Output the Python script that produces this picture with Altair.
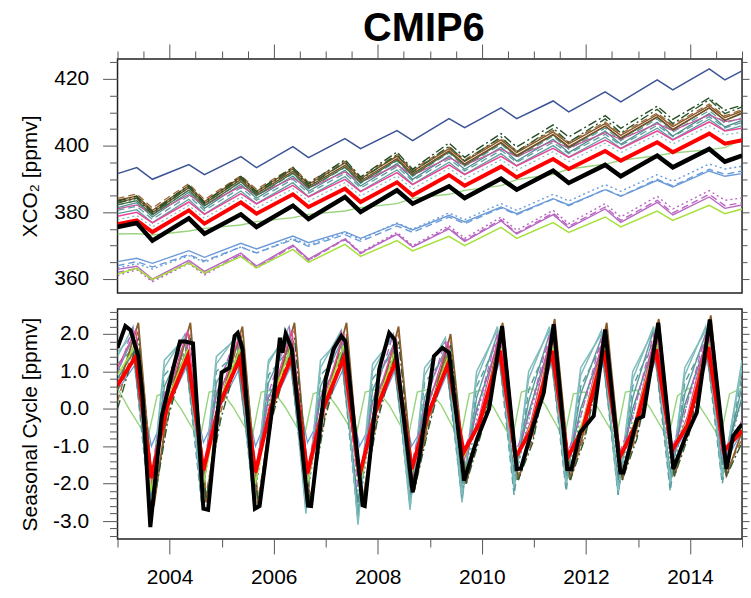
import altair as alt
import pandas as pd

# ---------------- time grids (decimal years) ----------------
X_TOP = [2003.0, 2003.37, 2003.67, 2004.37, 2004.67, 2005.37, 2005.67, 2006.37, 2006.67,
         2007.37, 2007.67, 2008.37, 2008.67, 2009.37, 2009.67, 2010.37, 2010.67, 2011.37,
         2011.67, 2012.37, 2012.67, 2013.37, 2013.67, 2014.37, 2014.67, 2015.0]

X_MID = [2003.0, 2003.35, 2003.65, 2003.95, 2004.35, 2004.65, 2004.95, 2005.35, 2005.65, 2005.95,
         2006.35, 2006.65, 2006.95, 2007.35, 2007.65, 2007.95, 2008.35, 2008.65, 2008.95,
         2009.35, 2009.65, 2009.95, 2010.35, 2010.65, 2010.95, 2011.35, 2011.65, 2011.95,
         2012.35, 2012.65, 2012.95, 2013.35, 2013.65, 2013.95, 2014.35, 2014.65, 2015.0]
X_EARLY = [2003.0, 2003.30, 2003.62, 2003.90, 2004.30, 2004.62, 2004.90, 2005.30, 2005.62, 2005.90,
           2006.30, 2006.62, 2006.90, 2007.30, 2007.62, 2007.90, 2008.30, 2008.62, 2008.90,
           2009.30, 2009.62, 2009.90, 2010.30, 2010.62, 2010.90, 2011.30, 2011.62, 2011.90,
           2012.30, 2012.62, 2012.90, 2013.30, 2013.62, 2013.90, 2014.30, 2014.62, 2015.0]
X_LATE = [2003.0, 2003.40, 2003.70, 2003.98, 2004.40, 2004.70, 2004.98, 2005.40, 2005.70, 2005.98,
          2006.40, 2006.70, 2006.98, 2007.40, 2007.70, 2007.98, 2008.40, 2008.70, 2008.98,
          2009.40, 2009.70, 2009.98, 2010.40, 2010.70, 2010.98, 2011.40, 2011.70, 2011.98,
          2012.40, 2012.70, 2012.98, 2013.40, 2013.70, 2013.98, 2014.40, 2014.70, 2015.0]
X_LG = [2003.0,
        2003.22, 2003.58, 2003.76, 2003.98, 2004.22, 2004.58, 2004.76, 2004.98,
        2005.22, 2005.58, 2005.76, 2005.98, 2006.22, 2006.58, 2006.76, 2006.98,
        2007.22, 2007.58, 2007.76, 2007.98, 2008.22, 2008.58, 2008.76, 2008.98,
        2009.22, 2009.58, 2009.76, 2009.98, 2010.22, 2010.58, 2010.76, 2010.98,
        2011.22, 2011.58, 2011.76, 2011.98, 2012.22, 2012.58, 2012.76, 2012.98,
        2013.22, 2013.58, 2013.76, 2013.98, 2014.22, 2014.58, 2014.76, 2014.98]

# ---------------- top panel: XCO2 [ppmv] ----------------
NAVY = [391.6, 393.4, 389.9, 394.3, 391.3, 396.7, 393.4, 399.7, 396.4, 402.1, 399.1, 404.5, 401.5,
        408.1, 405.4, 411.3, 408.1, 413.4, 410.1, 416.1, 413.1, 419.7, 416.7, 423.0, 419.7, 422.4]
BLACK = [375.6, 376.8, 371.5, 378.2, 373.6, 379.4, 375.6, 382.0, 378.0, 384.6, 380.1, 386.6, 382.6,
         387.8, 384.3, 390.1, 386.8, 392.5, 388.8, 394.2, 390.8, 397.0, 393.5, 399.0, 395.2, 397.0]
RED = [376.4, 377.6, 374.1, 380.6, 376.6, 383.0, 379.6, 385.4, 381.6, 387.1, 383.1, 389.0, 385.1,
       391.2, 388.0, 393.7, 390.5, 396.0, 393.0, 398.4, 395.5, 401.0, 398.0, 403.6, 400.6, 401.6]
LGREEN = [373.5, 373.6, 373.2, 374.4, 375.2, 376.2, 377.2, 378.4, 379.4, 380.4, 381.4, 382.6, 384.2,
          385.4, 386.6, 388.0, 389.8, 391.4, 393.0, 394.4, 395.6, 397.0, 397.8, 398.8, 399.4, 401.8]
LIME = [361.5, 363.2, 359.8, 364.8, 361.8, 366.7, 363.3, 368.9, 365.0, 370.4, 366.8, 371.5, 368.4,
        372.8, 370.0, 375.5, 372.2, 376.9, 374.0, 378.6, 375.6, 380.4, 377.6, 382.1, 379.6, 381.0]
PURPLE_S = [362.9, 363.8, 360.0, 365.6, 362.3, 367.8, 363.9, 370.2, 366.0, 372.0, 367.8, 373.4, 369.6,
            375.0, 371.3, 377.4, 373.5, 379.3, 375.3, 381.0, 377.0, 383.0, 379.2, 384.6, 381.2, 382.2]
PURPLE_DOT = [361.0, 362.8, 359.2, 364.6, 361.2, 367.2, 363.2, 370.0, 365.6, 372.2, 368.0, 374.0, 370.0,
              376.0, 372.2, 378.6, 374.6, 380.6, 376.6, 382.6, 378.6, 384.8, 381.0, 386.5, 383.6, 384.3]
PURPLE_DASH = [362.0, 363.2, 359.6, 365.0, 361.6, 367.4, 363.5, 369.8, 365.6, 371.8, 367.6, 373.6, 369.6,
               375.4, 371.6, 377.8, 373.8, 379.8, 375.8, 381.6, 377.6, 383.6, 379.8, 385.4, 382.0, 382.9]
BLUE_S = [365.2, 366.2, 364.7, 368.5, 366.5, 370.7, 369.0, 372.9, 370.9, 374.2, 372.2, 376.6, 374.7,
          379.1, 377.1, 381.6, 379.6, 384.1, 382.2, 386.8, 384.8, 389.6, 387.6, 392.4, 390.8, 391.6]
BLUE_DASH = [364.0, 365.2, 363.6, 367.3, 365.4, 369.6, 367.8, 371.8, 369.8, 373.3, 371.3, 375.9, 374.0,
             378.6, 376.6, 381.3, 379.3, 384.0, 382.0, 386.9, 384.9, 389.9, 387.9, 392.9, 391.4, 392.4]
BLUE_DOT = [363.3, 364.6, 363.0, 367.0, 365.0, 369.6, 367.8, 372.2, 370.2, 373.9, 371.9, 376.8, 374.9,
            379.8, 377.8, 382.6, 380.6, 385.4, 383.4, 388.3, 386.3, 391.3, 389.3, 394.5, 393.0, 393.8]
PINK = [378.8, 380.0, 376.8, 383.1, 379.4, 385.6, 382.5, 388.1, 384.6, 389.9, 386.2, 391.9, 388.3,
        394.2, 391.3, 396.8, 393.9, 399.2, 396.5, 401.7, 399.1, 404.4, 401.7, 407.1, 404.4, 405.2]
PLUM = [381.0, 382.2, 379.5, 385.3, 382.1, 387.8, 385.2, 390.3, 387.3, 392.1, 389.0, 394.1, 391.1,
        396.4, 394.1, 399.0, 396.7, 401.4, 399.3, 403.9, 401.9, 406.6, 404.5, 409.2, 407.2, 408.0]
TEAL1 = [379.6, 380.8, 376.9, 383.9, 379.5, 386.4, 382.6, 388.9, 384.7, 390.7, 386.3, 392.7, 388.4,
         395.0, 391.4, 397.6, 394.0, 400.0, 396.6, 402.5, 399.2, 405.2, 401.8, 407.9, 404.5, 406.0]
TEAL2 = [380.6, 381.8, 377.9, 384.9, 380.5, 387.4, 383.6, 389.9, 385.7, 391.7, 387.3, 393.7, 389.4,
         396.0, 392.4, 398.6, 395.0, 401.0, 397.6, 403.4, 400.1, 406.1, 402.7, 408.7, 405.3, 406.9]
TEAL3 = [381.4, 382.9, 378.6, 386.0, 381.2, 388.4, 384.2, 390.9, 386.3, 392.6, 387.9, 394.6, 389.9,
         396.9, 392.9, 399.5, 395.4, 401.9, 397.9, 404.4, 400.4, 407.0, 402.9, 409.6, 405.6, 407.6]
TEAL4 = [377.8, 379.0, 375.6, 382.1, 378.2, 384.6, 381.2, 387.1, 383.3, 388.9, 384.9, 390.9, 387.0,
         393.2, 390.0, 395.8, 392.6, 398.2, 395.2, 400.7, 397.9, 403.4, 400.5, 406.0, 403.2, 404.0]
TEAL5 = [382.2, 383.6, 379.4, 386.6, 381.9, 389.1, 384.9, 391.6, 387.0, 393.4, 388.7, 395.4, 390.8,
         397.8, 393.8, 400.4, 396.4, 402.8, 398.9, 405.3, 401.5, 408.0, 404.1, 410.5, 406.7, 408.4]
BROWN1 = [383.6, 384.9, 380.6, 388.0, 383.2, 390.5, 386.3, 393.0, 388.4, 394.8, 390.1, 396.8, 392.3,
          399.1, 395.3, 401.7, 397.9, 404.1, 400.5, 406.6, 403.1, 409.3, 405.7, 412.0, 408.4, 410.4]
BROWN2 = [384.2, 385.5, 381.3, 388.6, 383.8, 391.0, 386.9, 393.5, 389.0, 395.3, 390.6, 397.3, 392.8,
          399.6, 395.8, 402.2, 398.4, 404.6, 401.0, 407.1, 403.6, 409.8, 406.2, 412.5, 408.9, 410.8]
BROWN3 = [383.0, 384.3, 379.9, 387.4, 382.6, 389.8, 385.6, 392.3, 387.7, 394.1, 389.4, 396.1, 391.6,
          398.4, 394.5, 401.0, 397.1, 403.4, 399.7, 405.9, 402.3, 408.6, 404.9, 411.3, 407.6, 409.8]
DKG1 = [382.8, 384.2, 379.6, 387.5, 382.4, 390.2, 385.6, 392.9, 387.9, 395.0, 389.8, 397.2, 392.1,
        399.8, 395.4, 402.6, 398.2, 405.2, 401.0, 408.0, 403.8, 410.9, 406.6, 413.8, 409.6, 411.6]
DKG2 = [382.2, 383.5, 379.2, 386.7, 381.9, 389.2, 385.0, 391.8, 387.2, 393.6, 388.9, 395.7, 391.1,
        398.1, 394.1, 400.8, 396.8, 403.2, 399.4, 405.8, 402.1, 408.5, 404.7, 411.3, 407.5, 409.6]
DKG3 = [383.4, 384.8, 380.2, 388.1, 383.0, 390.8, 386.2, 393.5, 388.6, 395.8, 390.6, 398.1, 392.9,
        400.8, 396.5, 403.6, 399.6, 406.2, 402.6, 409.0, 405.2, 411.8, 407.9, 414.3, 410.6, 412.1]

# ---------------- bottom panel: Seasonal Cycle [ppmv] ----------------
RED_B = [0.63, 1.40, -1.85, 0.05, 1.40, -1.65, 0.10, 1.35, -1.70, 0.05, 1.40, -1.72, 0.00,
         1.37, -1.79, -0.10, 1.30, -1.61, -0.20, 1.19, -1.16, -0.40, 1.55, -1.30, -0.55,
         1.55, -1.30, -0.50, 1.55, -1.30, -0.45, 1.59, -1.12, -0.45, 1.65, -1.12, -0.59]
BLACK_BT = [2003.0, 2003.15, 2003.25, 2003.4, 2003.48, 2003.63, 2003.85, 2004.05, 2004.2, 2004.3,
            2004.45, 2004.65, 2004.74, 2005.0, 2005.15, 2005.25, 2005.31, 2005.4, 2005.64, 2005.73,
            2006.02, 2006.12, 2006.17, 2006.23, 2006.35, 2006.66, 2006.72, 2007.0, 2007.15, 2007.3,
            2007.38, 2007.71, 2007.75, 2008.03, 2008.22, 2008.32, 2008.67, 2008.8, 2009.08, 2009.24,
            2009.37, 2009.66, 2009.91, 2010.14, 2010.39, 2010.67, 2010.75, 2011.0, 2011.19, 2011.38,
            2011.64, 2011.72, 2011.89, 2012.15, 2012.37, 2012.66, 2012.72, 2012.98, 2013.1, 2013.39,
            2013.68, 2013.9, 2014.13, 2014.38, 2014.7, 2014.83, 2015.0]
BLACK_BV = [1.63, 2.21, 2.1, 1.41, 0.35, -3.16, -0.2, 0.97, 1.8, 1.8,
            1.75, -2.67, -2.7, 0.97, 1.1, 1.95, 2.03, 1.6, -2.67, -2.6,
            0.52, 1.9, 1.5, 2.0, 1.6, -2.59, -2.6, 0.8, 1.6, 1.95,
            1.8, -2.58, -2.6, 1.07, 2.03, 1.86, -2.23, -1.3, 1.41, 1.63,
            1.5, -1.92, -0.8, 0.0, 2.21, -1.61, -1.6, -0.4, 0.43, 2.26,
            -1.61, -1.62, -0.63, -0.19, 2.12, -1.70, -1.7, -0.28, -0.2, 2.3,
            -1.61, -0.8, -0.1, 2.39, -1.61, -0.72, -0.41]
TEALB1 = [1.0, 1.9, -2.4, 0.6, 1.8, -2.2, 0.7, 1.7, -2.3, 0.7, 1.9, -2.5, 0.6, 1.8, -2.9, 0.5, 1.7, -2.4, 0.3,
          1.6, -2.2, 0.3, 2.0, -1.9, 0.2, 2.0, -1.9, 0.4, 1.9, -2.1, 0.3, 2.1, -1.9, 0.4, 2.0, -1.7, 0.6]
TEALB2 = [1.2, 1.6, -2.7, 0.9, 1.5, -2.6, 1.0, 1.5, -2.5, 0.9, 1.6, -2.6, 0.9, 1.5, -3.0, 0.8, 1.5, -2.6, 0.7,
          1.4, -2.4, 0.6, 1.8, -2.3, 0.5, 1.8, -2.2, 0.6, 1.7, -2.3, 0.6, 1.8, -2.2, 0.7, 1.8, -2.0, 0.9]
TEALB3 = [0.8, 1.5, -2.2, 0.3, 1.4, -2.0, 0.4, 1.3, -2.1, 0.3, 1.5, -2.2, 0.3, 1.4, -2.5, 0.2, 1.3, -2.1, 0.0,
          1.3, -2.0, 0.0, 1.7, -1.7, -0.1, 1.7, -1.8, 0.0, 1.6, -1.9, 0.0, 1.7, -1.7, 0.1, 1.7, -1.5, 0.3]
TEALB4 = [1.4, 2.2, -2.5, 1.1, 2.0, -2.4, 1.2, 2.0, -2.4, 1.2, 2.2, -2.7, 1.1, 2.1, -3.1, 1.0, 2.0, -2.6, 0.9,
          1.9, -2.3, 0.8, 2.2, -2.0, 0.8, 2.2, -2.0, 0.9, 2.1, -2.2, 0.8, 2.2, -1.9, 0.9, 2.2, -1.8, 1.1]
TEALB5 = [1.5, 2.0, -2.6, 1.3, 1.9, -2.5, 1.4, 1.9, -2.6, 1.3, 2.0, -2.8, 1.3, 1.9, -2.8, 1.2, 1.9, -2.7, 1.1,
          1.8, -2.5, 1.0, 2.1, -2.2, 1.0, 2.1, -2.1, 1.1, 2.0, -2.3, 1.0, 2.1, -2.1, 1.1, 2.1, -1.9, 1.3]
TEALB6 = [0.7, 1.8, -2.3, 0.5, 1.7, -2.1, 0.5, 1.6, -2.2, 0.5, 1.8, -2.3, 0.4, 1.7, -2.6, 0.3, 1.6, -2.3, 0.1,
          1.5, -2.1, 0.1, 1.9, -1.8, 0.0, 1.9, -1.8, 0.1, 1.8, -2.0, 0.1, 1.9, -1.8, 0.2, 1.9, -1.6, 0.3]
BROWNB1 = [0.5, 2.3, -2.6, 0.2, 2.3, -2.5, 0.2, 2.2, -2.6, 0.2, 2.3, -2.6, 0.1, 2.3, -2.6, 0.0, 2.2, -2.2, -0.2,
           2.0, -2.0, -0.4, 2.3, -1.9, -0.6, 2.4, -1.9, -0.5, 2.3, -1.9, -0.5, 2.4, -1.8, -0.4, 2.5, -1.8, -0.6]
BROWNB2 = [0.2, 2.1, -2.4, -0.1, 2.0, -2.3, -0.1, 2.0, -2.4, -0.1, 2.1, -2.4, -0.2, 2.0, -2.5, -0.3, 2.0, -2.1, -0.4,
           1.8, -1.9, -0.6, 2.1, -1.8, -0.8, 2.2, -1.8, -0.7, 2.1, -1.8, -0.7, 2.2, -1.7, -0.6, 2.3, -1.7, -0.8]
DKGB = [0.0, 1.9, -2.5, -0.2, 1.9, -2.4, -0.3, 1.8, -2.5, -0.2, 1.9, -2.5, -0.3, 1.9, -2.6, -0.4, 1.8, -2.2, -0.5,
        1.7, -2.0, -0.7, 2.0, -1.9, -0.9, 2.1, -1.9, -0.8, 2.0, -1.9, -0.8, 2.1, -1.8, -0.7, 2.2, -1.8, -0.9]
PINKB = [1.1, 2.1, -2.0, 0.3, 2.1, -1.9, 0.3, 2.0, -1.9, 0.3, 2.1, -1.9, 0.2, 2.0, -2.0, 0.1, 1.9, -1.8, 0.0,
         1.8, -1.4, -0.2, 2.1, -1.4, -0.3, 2.1, -1.4, -0.3, 2.0, -1.4, -0.3, 2.1, -1.3, -0.2, 2.1, -1.3, -0.4]
PURPLEB = [0.9, 2.2, -2.0, 0.4, 2.0, -1.8, 0.4, 2.1, -1.9, 0.4, 2.2, -1.9, 0.3, 2.1, -2.1, 0.2, 2.0, -1.7, 0.1,
           1.8, -1.3, -0.1, 2.0, -1.3, -0.2, 2.0, -1.3, -0.2, 1.9, -1.3, -0.2, 2.0, -1.2, -0.1, 2.0, -1.2, -0.3]
LIMEB = [0.9, 1.7, -2.2, 0.2, 1.6, -2.0, 0.2, 1.6, -2.0, 0.2, 1.7, -2.0, 0.1, 1.7, -2.1, 0.0, 1.6, -1.7, -0.2,
         1.4, -1.3, -0.3, 1.7, -1.4, -0.4, 1.7, -1.4, -0.3, 1.7, -1.4, -0.3, 1.8, -1.2, -0.3, 1.8, -1.2, -0.5]
BLUEB = [0.5, 1.2, -1.0, 0.0, 1.2, -0.9, 0.0, 1.1, -1.0, 0.0, 1.2, -0.9, -0.1, 1.1, -1.0, -0.2, 1.1, -1.0, -0.3,
         1.0, -1.2, -0.4, 1.3, -1.3, -0.5, 1.3, -1.3, -0.5, 1.3, -1.4, -0.5, 1.4, -1.3, -0.5, 1.4, -1.5, -0.6]
LGREENB = [0.55,
           0.0, -0.8, 0.35, 0.48, 0.0, -0.85, 0.45, 0.5, 0.05, -0.8, 0.45, 0.5, 0.05, -0.8, 0.4, 0.5,
           0.05, -0.75, 0.45, 0.52, 0.1, -0.8, 0.45, 0.52, 0.1, -0.85, 0.4, 0.5, 0.05, -0.85, 0.45, 0.55,
           0.1, -0.8, 0.4, 0.45, 0.05, -0.8, 0.45, 0.5, 0.05, -0.8, 0.35, 0.55, 0.0, -0.8, 0.4, 0.55]

# ticks
X_TICKS = [2003 + 0.5 * i for i in range(25)]
TOP_TICKS = [360 + 5 * i for i in range(14)]
BOT_TICKS = [round(-3.4 + 0.2 * i, 1) for i in range(31)]

# ---------------- styling ----------------
FONT = "Liberation Sans"
W, H_TOP, H_BOT = 627, 235, 231
XS = alt.Scale(domain=[2003.0, 2015.0], nice=False, zero=False)
YS_TOP = alt.Scale(domain=[355.8, 426.0], nice=False, zero=False)
YS_BOT = alt.Scale(domain=[-3.48, 2.67], nice=False, zero=False)
TICK_COLOR = "#555555"
DASH = [7, 4]
DOT = [2, 3]
DASHDOT = [9, 3, 2, 3]

X_MAJOR = "datum.value % 2 === 0"
TOP_MAJOR = "datum.value % 20 === 0"
BOT_MAJOR = "abs(datum.value - round(datum.value)) < 0.01"


def cond(test, major, minor):
    return {"condition": {"test": test, "value": major}, "value": minor}


def axis(orient, values, test, labels=False, label_expr=None, fmt=None, title=None,
         major=15, minor=8, label_pad=14, **extra):
    kw = dict(orient=orient, values=values, tickSize=cond(test, major, minor),
              tickColor=TICK_COLOR, tickWidth=1, domain=False, grid=False,
              labels=labels, labelOverlap=False, labelFlush=False)
    if labels:
        kw.update(labelExpr=label_expr, labelFont=FONT, labelFontSize=21,
                  labelColor="black", labelPadding=label_pad)
        if fmt:
            kw["format"] = fmt
    if title:
        kw.update(title=title, titleFont=FONT, titleFontSize=21, titleFontWeight="normal",
                  titleColor="black")
    else:
        kw["title"] = None
    kw.update(extra)
    return alt.Axis(**kw)


def line(xs, ys, yscale, color, width=1.3, dash=None, opacity=1.0):
    assert len(xs) == len(ys), (len(xs), len(ys))
    df = pd.DataFrame({"t": xs, "v": ys})
    kw = dict(color=color, strokeWidth=width, clip=True, opacity=opacity)
    if dash:
        kw["strokeDash"] = dash
    return alt.Chart(df).mark_line(**kw).encode(
        x=alt.X("t:Q", scale=XS, axis=None),
        y=alt.Y("v:Q", scale=yscale, axis=None),
        order=alt.Order("t:Q"))


def axis_layer(xs, ys, yscale, xaxis, yaxis):
    df = pd.DataFrame({"t": xs, "v": ys})
    return alt.Chart(df).mark_point(opacity=0).encode(
        x=alt.X("t:Q", scale=XS, axis=xaxis),
        y=alt.Y("v:Q", scale=yscale, axis=yaxis))


C_TEAL, C_TEAL_L, C_TEAL_D = "#5f9ea0", "#7fbcbc", "#4d8c8c"
C_BROWN1, C_BROWN2, C_BROWN3 = "#8b5a2b", "#9c6a36", "#7a4c22"
C_DKG1, C_DKG2, C_DKG3 = "#2f5a2f", "#3f6f3f", "#254d25"
C_PINK, C_PLUM = "#e8479a", "#c4569c"
C_BLUE, C_PURPLE = "#6b9bd8", "#b866c2"
C_LIME, C_LGREEN, C_NAVY = "#a5e03a", "#98d47c", "#3b5495"

# ---------------- top panel ----------------
top_layers = [
    axis_layer(X_TOP, RED, YS_TOP,
               axis("top", X_TICKS, X_MAJOR),
               axis("left", TOP_TICKS, TOP_MAJOR, labels=True,
                    label_expr="datum.value % 20 === 0 ? datum.label : ''", fmt="d",
                    title="XCO\u2082 [ppmv]", titleX=-87, titleY=H_TOP / 2,
                    titleAlign="center", titleBaseline="middle", titleAngle=270)),
    line(X_TOP, TEAL4, YS_TOP, C_TEAL_L, 1.2, DOT),
    line(X_TOP, TEAL1, YS_TOP, C_TEAL, 1.3),
    line(X_TOP, TEAL2, YS_TOP, C_TEAL, 1.3, DASH),
    line(X_TOP, TEAL3, YS_TOP, C_TEAL_D, 1.3),
    line(X_TOP, TEAL5, YS_TOP, C_TEAL, 1.3, DASH),
    line(X_TOP, PLUM, YS_TOP, C_PLUM, 1.3),
    line(X_TOP, DKG2, YS_TOP, C_DKG2, 1.3),
    line(X_TOP, BROWN3, YS_TOP, C_BROWN3, 1.4),
    line(X_TOP, BROWN1, YS_TOP, C_BROWN1, 1.5),
    line(X_TOP, BROWN2, YS_TOP, C_BROWN2, 1.3, DASH),
    line(X_TOP, DKG1, YS_TOP, C_DKG1, 1.4, DASHDOT),
    line(X_TOP, DKG3, YS_TOP, C_DKG3, 1.4, DASHDOT),
    line(X_TOP, PINK, YS_TOP, C_PINK, 1.5),
    line(X_TOP, BLUE_S, YS_TOP, C_BLUE, 1.4),
    line(X_TOP, BLUE_DASH, YS_TOP, C_BLUE, 1.4, DASH),
    line(X_TOP, BLUE_DOT, YS_TOP, C_BLUE, 1.4, DOT),
    line(X_TOP, PURPLE_S, YS_TOP, C_PURPLE, 1.4),
    line(X_TOP, PURPLE_DASH, YS_TOP, C_PURPLE, 1.4, DASH),
    line(X_TOP, PURPLE_DOT, YS_TOP, C_PURPLE, 1.4, DOT),
    line(X_TOP, LIME, YS_TOP, C_LIME, 1.5),
    line(X_TOP, NAVY, YS_TOP, C_NAVY, 1.5),
    line(X_TOP, LGREEN, YS_TOP, C_LGREEN, 1.4),
    line(X_TOP, RED, YS_TOP, "#ff0000", 4),
    line(X_TOP, BLACK, YS_TOP, "#000000", 4.5),
    axis_layer(X_TOP, RED, YS_TOP, None,
               axis("right", TOP_TICKS, TOP_MAJOR, major=7, minor=5)),
]
top = alt.layer(*top_layers).resolve_axis(x="independent", y="independent").properties(
    width=W, height=H_TOP)

# ---------------- bottom panel ----------------
bot_label = ("abs(datum.value - round(datum.value)) < 0.01 ? "
             "(datum.value < -0.001 ? '-' : '') + format(abs(datum.value), '.1f') : ''")
bot_layers = [
    axis_layer(X_MID, RED_B, YS_BOT,
               axis("bottom", X_TICKS, X_MAJOR, labels=True,
                    label_expr="datum.value % 2 === 0 ? datum.label : ''", fmt="d", label_pad=13),
               axis("left", BOT_TICKS, BOT_MAJOR, labels=True, label_expr=bot_label,
                    title="Seasonal Cycle [ppmv]", titleX=-87, titleY=H_BOT / 2,
                    titleAlign="center", titleBaseline="middle", titleAngle=270)),
    line(X_LG, LGREENB, YS_BOT, C_LGREEN, 1.4),
    line(X_MID, BLUEB, YS_BOT, C_BLUE, 1.3),
    line(X_EARLY, TEALB5, YS_BOT, C_TEAL_L, 1.5),
    line(X_EARLY, TEALB1, YS_BOT, C_TEAL, 1.5),
    line(X_EARLY, TEALB2, YS_BOT, C_TEAL, 1.5, DASH),
    line(X_EARLY, TEALB3, YS_BOT, C_TEAL_D, 1.5),
    line(X_EARLY, TEALB4, YS_BOT, C_TEAL_L, 1.5),
    line(X_MID, TEALB6, YS_BOT, C_TEAL, 1.5, DOT),
    line(X_LATE, BROWNB1, YS_BOT, C_BROWN1, 1.8),
    line(X_LATE, BROWNB2, YS_BOT, C_BROWN2, 1.5, DASH),
    line(X_LATE, DKGB, YS_BOT, C_DKG1, 1.4, DASHDOT),
    line(X_MID, PINKB, YS_BOT, C_PINK, 1.3),
    line(X_EARLY, PURPLEB, YS_BOT, C_PURPLE, 1.3, DASH),
    line(X_MID, LIMEB, YS_BOT, C_LIME, 1.5),
    line(X_MID, RED_B, YS_BOT, "#ff0000", 4),
    line(BLACK_BT, BLACK_BV, YS_BOT, "#000000", 4),
    axis_layer(X_MID, RED_B, YS_BOT, None,
               axis("right", BOT_TICKS, BOT_MAJOR, major=7, minor=5)),
]
bottom = alt.layer(*bot_layers).resolve_axis(x="independent", y="independent").properties(
    width=W, height=H_BOT)

chart = alt.vconcat(top, bottom, spacing=5).properties(
    title=alt.TitleParams("CMIP6", font=FONT, fontSize=40, fontWeight="bold", color="black",
                          anchor="middle", frame="group", offset=-6, dx=-6),
    padding={"left": 19, "top": 7, "right": 0, "bottom": 0},
).configure_view(stroke="#222222", strokeWidth=1.5)

chart.save("out.html", embed_options={"renderer": "svg", "actions": False})
